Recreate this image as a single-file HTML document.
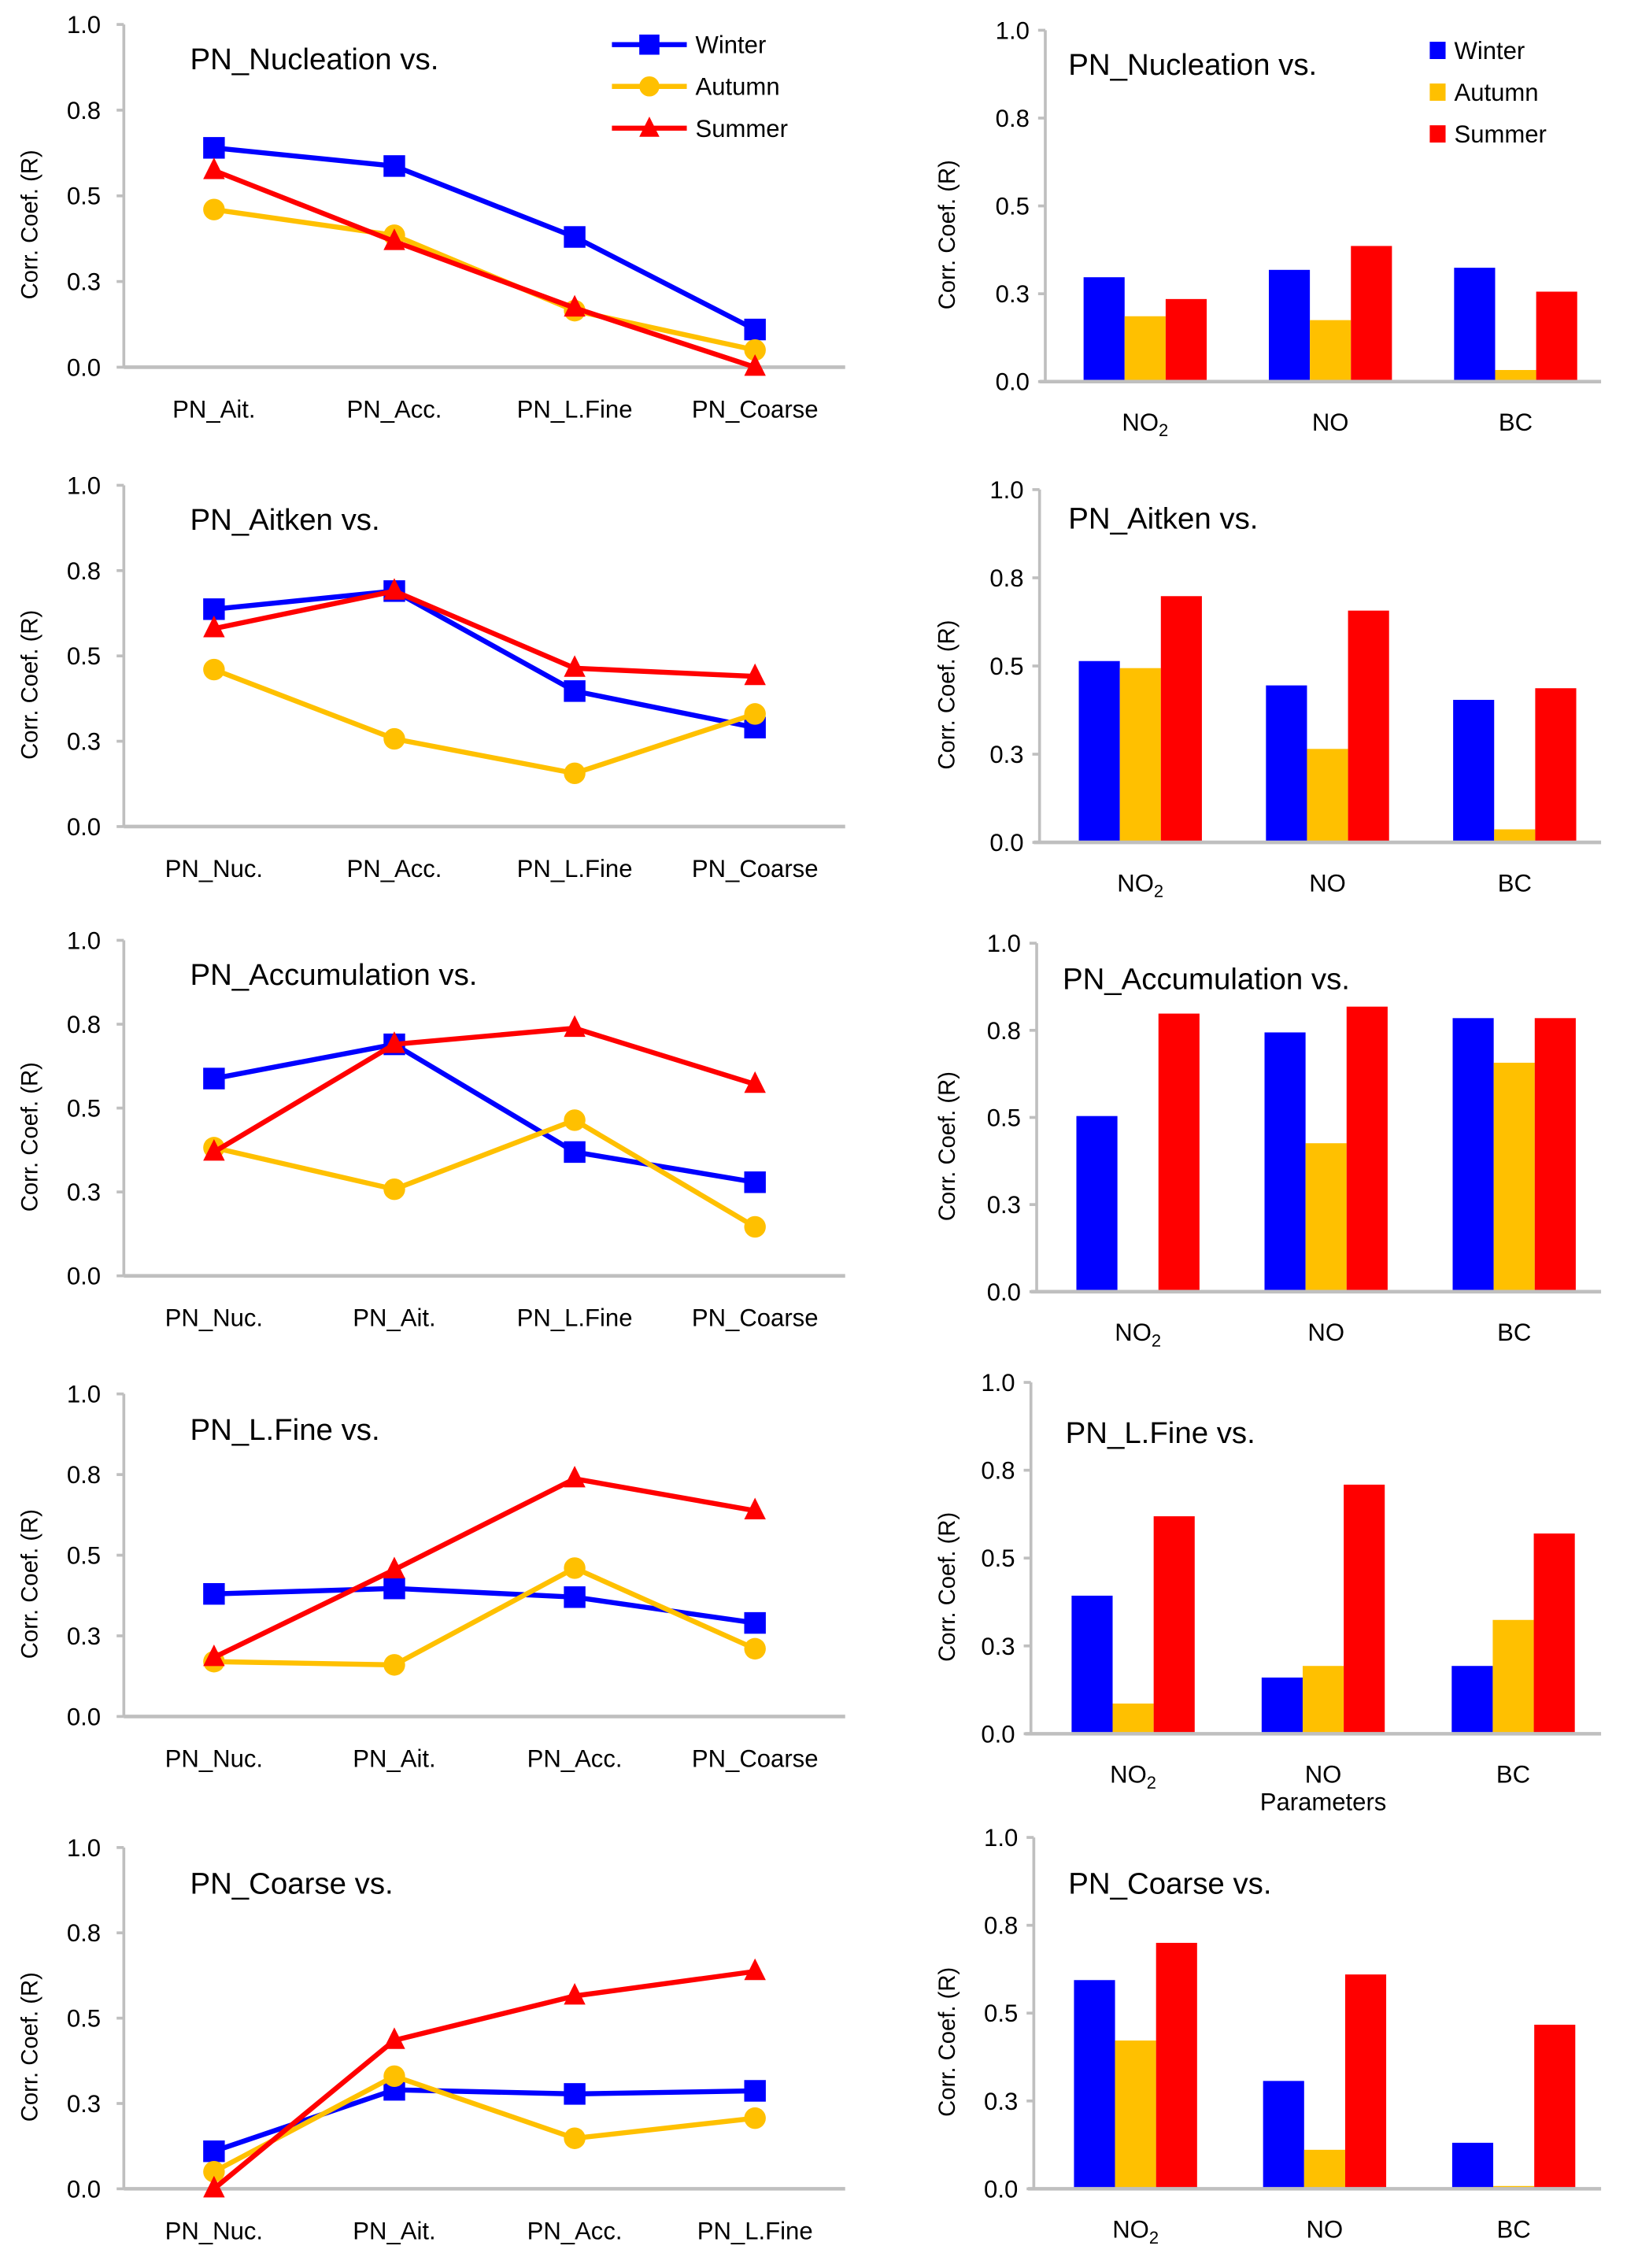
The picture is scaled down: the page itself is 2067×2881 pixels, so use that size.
<!DOCTYPE html>
<html><head><meta charset="utf-8">
<style>
html,body{margin:0;padding:0;background:#fff;}
svg{display:block;font-family:"Liberation Sans",sans-serif;}
</style></head>
<body>
<svg id="fig" width="2067" height="2881" viewBox="0 0 1130 1575" preserveAspectRatio="none" xmlns="http://www.w3.org/2000/svg"></svg>
<script>
const seasons = ["Winter","Autumn","Summer"];
const seasonColors = ["#0000ff","#ffc000","#ff0000"];
const yTickVals = [0,0.25,0.5,0.75,1.0];
const yTickLabels = ["0.0","0.3","0.5","0.8","1.0"];
const lineTitles = ["PN_Nucleation vs.","PN_Aitken vs.","PN_Accumulation vs.","PN_L.Fine vs.","PN_Coarse vs."];
const lineCats = [
  ["PN_Ait.","PN_Acc.","PN_L.Fine","PN_Coarse"],
  ["PN_Nuc.","PN_Acc.","PN_L.Fine","PN_Coarse"],
  ["PN_Nuc.","PN_Ait.","PN_L.Fine","PN_Coarse"],
  ["PN_Nuc.","PN_Ait.","PN_Acc.","PN_Coarse"],
  ["PN_Nuc.","PN_Ait.","PN_Acc.","PN_L.Fine"]
];
const lineWinter = [[0.64,0.587,0.38,0.11],[0.637,0.69,0.397,0.29],[0.588,0.69,0.369,0.279],[0.38,0.397,0.37,0.29],[0.11,0.29,0.278,0.287]];
const lineAutumn = [[0.46,0.385,0.165,0.05],[0.46,0.257,0.156,0.33],[0.382,0.258,0.464,0.146],[0.17,0.16,0.46,0.21],[0.05,0.33,0.148,0.207]];
const lineSummer = [[0.574,0.367,0.173,0],[0.58,0.69,0.464,0.44],[0.369,0.69,0.738,0.571],[0.183,0.455,0.737,0.638],[0,0.435,0.565,0.637]];
const barCats = ["NO","NO","BC"];
const barWinter = [[0.297,0.318,0.324],[0.514,0.445,0.404],[0.504,0.744,0.785],[0.393,0.16,0.193],[0.594,0.307,0.131]];
const barAutumn = [[0.186,0.175,0.033],[0.494,0.265,0.037],[0,0.426,0.657],[0.086,0.193,0.324],[0.422,0.111,0.008]];
const barSummer = [[0.235,0.386,0.256],[0.698,0.657,0.437],[0.798,0.818,0.785],[0.619,0.709,0.57],[0.70,0.61,0.467]];

const NS="http://www.w3.org/2000/svg";
const svg=document.getElementById('fig');
function mk(tag,attrs,parent){const e=document.createElementNS(NS,tag);for(const k in attrs)e.setAttribute(k,attrs[k]);(parent||svg).appendChild(e);return e;}
const lineFrames=[{y0:255,y1:17},{y0:574,y1:337},{y0:886,y1:653},{y0:1192,y1:968},{y0:1520,y1:1283}];
const barFrames=[{x0:726,y0:265,y1:21},{x0:722,y0:585,y1:340},{x0:720,y0:897,y1:655},{x0:716,y0:1204,y1:960},{x0:718,y0:1520,y1:1276}];
const lineTitlePos=[[132,48],[132,368],[132,684],[132,1000],[132,1315]];
const barTitlePos=[[742,52],[742,367],[738,687],[740,1002],[742,1315]];

function yAxis(g,x,y0,y1,labelX,titleX){
  const sc=v=>y0-(y0-y1)*v;
  mk('line',{x1:x,y1:y1,x2:x,y2:y0,stroke:'#bfbfbf','stroke-width':2},g);
  yTickVals.forEach((v,i)=>{
    mk('line',{x1:x-5,y1:sc(v),x2:x,y2:sc(v),stroke:'#bfbfbf','stroke-width':2},g);
    const t=mk('text',{x:labelX,y:sc(v)+6,'font-size':17,'text-anchor':'end',fill:'#000'},g);
    
    
    t.textContent=yTickLabels[i];
  });
  const cy=(y0+y1)/2+20;
  const tt=mk('text',{x:titleX,y:cy,'font-size':16,'text-anchor':'middle',transform:`rotate(-90 ${titleX} ${cy})`,fill:'#000'},g);
  
  
  tt.textContent='Corr. Coef. (R)';
  return sc;
}

for(let p=0;p<5;p++){
  const g=mk('g',{});
  
  
  const f=lineFrames[p];const xs=86,xe=587;
  const sc=yAxis(g,xs,f.y0,f.y1,70,26);
  mk('line',{x1:xs,y1:f.y0,x2:xe,y2:f.y0,stroke:'#bfbfbf','stroke-width':2.5},g);
  const xc=i=>xs+(xe-xs)*(i+0.5)/4;
  lineCats[p].forEach((c,i)=>{
    const t=mk('text',{x:xc(i),y:f.y0+35,'font-size':17,'text-anchor':'middle',fill:'#000'},g);
    
    
    t.textContent=c;
  });
  const tt=mk('text',{x:lineTitlePos[p][0],y:lineTitlePos[p][1],'font-size':21,fill:'#000'},g);
  
  
  tt.textContent=lineTitles[p];
  [lineWinter[p],lineAutumn[p],lineSummer[p]].forEach((vals,s)=>{
    const col=seasonColors[s];
    const pts=vals.map((v,i)=>xc(i)+','+sc(v)).join(' ');
    const pl=mk('polyline',{points:pts,fill:'none',stroke:col,'stroke-width':3.5},g);
    
    
    vals.forEach((v,i)=>{
      const x=xc(i),y=sc(v);let m;
      if(s===0)m=mk('rect',{x:x-7.5,y:y-7.5,width:15,height:15,fill:col},g);
      else if(s===1)m=mk('ellipse',{cx:x,cy:y,rx:7.5,ry:7.5,fill:col},g);
      else m=mk('polygon',{points:`${x},${y-9} ${x-7.5},${y+6} ${x+7.5},${y+6}`,fill:col},g);
      
      
    });
  });
  if(p===0){
    const lg=mk('g',{},g);
    
    
    seasons.forEach((s,i)=>{
      const y=31+i*29,col=seasonColors[i];
      mk('line',{x1:425,y1:y,x2:477,y2:y,stroke:col,'stroke-width':3.5},lg);
      if(i===0)mk('rect',{x:444,y:y-7,width:14,height:14,fill:col},lg);
      else if(i===1)mk('circle',{cx:451,cy:y,r:7,fill:col},lg);
      else mk('polygon',{points:`451,${y-8} 444,${y+6} 458,${y+6}`,fill:col},lg);
      const t=mk('text',{x:483,y:y+6,'font-size':17,fill:'#000'},lg);
      
      
      t.textContent=s;
    });
  }
}

for(let p=0;p<5;p++){
  const g=mk('g',{});
  
  
  const f=barFrames[p];const xs=f.x0,xe=1112;
  const sc=yAxis(g,xs,f.y0,f.y1,xs-11,663);
  const xc=i=>xs+5+(xe-xs)*(i+0.5)/3;
  const bw=28.5;
  [barWinter[p],barAutumn[p],barSummer[p]].forEach((vals,s)=>{
    vals.forEach((v,i)=>{
      const x=xc(i)-1.5*bw+s*bw;
      const r=mk('rect',{x:x,y:sc(v),width:bw,height:f.y0-sc(v),fill:seasonColors[s]},g);
      
      
    });
  });
  mk('line',{x1:xs-4,y1:f.y0,x2:xe,y2:f.y0,stroke:'#bfbfbf','stroke-width':2.5},g);
  barCats.forEach((c,i)=>{
    const t=mk('text',{x:xc(i),y:f.y0+34,'font-size':17,'text-anchor':'middle',fill:'#000'},g);
    
    
    if(i===0){t.textContent=c;const sub=mk('tspan',{'font-size':12,dy:4},t);sub.textContent='2';}
    else t.textContent=c;
  });
  if(p===3){
    const t=mk('text',{x:xc(1),y:f.y0+53,'font-size':17,'text-anchor':'middle',fill:'#000'},g);
    
    
    t.textContent='Parameters';
  }
  const tt=mk('text',{x:barTitlePos[p][0],y:barTitlePos[p][1],'font-size':21,fill:'#000'},g);
  
  
  tt.textContent=lineTitles[p];
  if(p===0){
    const lg=mk('g',{},g);
    
    
    seasons.forEach((s,i)=>{
      const y=35+i*29;
      mk('rect',{x:993,y:y-6,width:11,height:12,fill:seasonColors[i]},lg);
      const t=mk('text',{x:1010,y:y+6,'font-size':17,fill:'#000'},lg);
      
      
      t.textContent=s;
    });
  }
}
</script>
</body></html>
